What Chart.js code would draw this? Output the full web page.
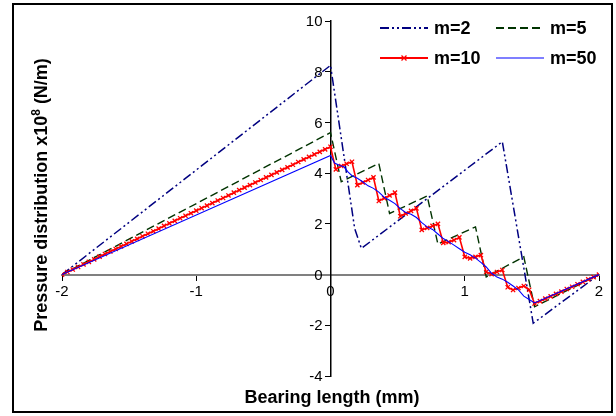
<!DOCTYPE html>
<html><head><meta charset="utf-8">
<script src="https://cdn.jsdelivr.net/npm/chart.js@4.4.0/dist/chart.umd.min.js"></script>
<style>html,body{margin:0;padding:0;background:#fff;}#wrap{position:relative;width:616px;height:416px;}</style>
</head><body><div id="wrap"><canvas id="c" width="616" height="416"></canvas></div>
<script>
const seriesNames = ['m=2', 'm=5', 'm=10', 'm=50'];
const xTicks = [-2, -1, 0, 1, 2];
const yTicks = [-4, -2, 0, 2, 4, 6, 8, 10];
const xTitle = 'Bearing length (mm)';
const yTitleParts = ['Pressure distribution x10', '8', ' (N/m)'];

const m2X = [-2, 0, 0.18, 0.23, 1.28, 1.51, 2];
const m2Y = [0, 8.25, 1.82, 1.03, 5.24, -1.92, 0];

const m5X = [-2, 0, 0.08, 0.36, 0.44, 0.72, 0.80, 1.08, 1.16, 1.44, 1.52, 2];
const m5Y = [0, 5.6, 3.66, 4.38, 2.41, 3.10, 1.20, 1.88, -0.09, 0.70, -1.27, 0];

const m10X = [-2.00,-1.96,-1.92,-1.88,-1.84,-1.80,-1.76,-1.72,-1.68,-1.64,-1.60,-1.56,-1.52,-1.48,-1.44,-1.40,-1.36,-1.32,-1.28,-1.24,-1.20,-1.16,-1.12,-1.08,-1.04,-1.00,-0.96,-0.92,-0.88,-0.84,-0.80,-0.76,-0.72,-0.68,-0.64,-0.60,-0.56,-0.52,-0.48,-0.44,-0.40,-0.36,-0.32,-0.28,-0.24,-0.20,-0.16,-0.12,-0.08,-0.04,0.00,
  0.04,0.08,0.12,0.16, 0.20,0.24,0.28,0.32, 0.36,0.40,0.44,0.48, 0.52,0.56,0.60,0.64, 0.68,0.72,0.76,0.80, 0.84,0.88,0.92,0.96, 1.00,1.04,1.08,1.12, 1.16,1.20,1.24,1.28, 1.32,1.36,1.40,1.44, 1.48,1.52,
  1.56,1.60,1.64,1.68,1.72,1.76,1.80,1.84,1.88,1.92,1.96,2.00];
const m10Y = [0,0.10,0.20,0.30,0.40,0.50,0.60,0.71,0.81,0.91,1.01,1.11,1.21,1.31,1.41,1.51,1.61,1.71,1.81,1.92,2.02,2.12,2.22,2.32,2.42,2.52,2.62,2.72,2.82,2.92,3.02,3.12,3.23,3.33,3.43,3.53,3.63,3.73,3.83,3.93,4.03,4.13,4.23,4.33,4.44,4.54,4.64,4.74,4.84,4.94,5.04,
  4.15,4.28,4.37,4.45, 3.53,3.63,3.73,3.83, 2.90,3.01,3.12,3.23, 2.30,2.41,2.51,2.61, 1.76,1.84,1.92,2.00, 1.25,1.28,1.36,1.47, 0.70,0.64,0.70,0.77, 0.10,0.02,0.10,0.18, -0.50,-0.61,-0.53,-0.45, -0.60,-1.14,
  -1.05,-0.95,-0.86,-0.76,-0.67,-0.57,-0.48,-0.38,-0.29,-0.19,-0.10,0];

const m50X = [-2, 0, 0.03,0.07,0.10,0.13,0.16,0.20,0.24,0.28,0.32,0.36,0.40,0.44,0.48,0.52,0.56,0.60,0.64,0.68,0.72,0.76,0.80,0.84,0.88,0.92,0.96,1.00,1.04,1.08,1.12,1.16,1.20,1.24,1.28,1.32,1.36,1.40,1.44,1.48,1.52, 2];
const m50Y = [0, 4.7, 4.40,4.30,4.25,4.05,3.90,3.80,3.66,3.50,3.40,3.25,3.05,2.93,2.80,2.60,2.45,2.38,2.25,2.05,1.88,1.78,1.60,1.42,1.30,1.16,1.02,0.88,0.78,0.65,0.48,0.30,0.05,-0.10,-0.18,-0.30,-0.45,-0.60,-0.85,-0.98,-1.12, 0];

function pts(xs, ys) { return xs.map((x, i) => ({x: x, y: ys[i]})); }

const FONT = '"Liberation Sans", Arial, sans-serif';

const styles = [
  {color: '#000080', dash: [9,3,2,3,2,3], width: 1.5, marker: false},
  {color: '#003300', dash: [8,4], width: 1.4, marker: false},
  {color: '#FF0000', dash: [], width: 1.6, marker: true},
  {color: '#0000FF', dash: [], width: 1.1, marker: false}
];

const datasets = [
  {label: seriesNames[0], data: pts(m2X, m2Y)},
  {label: seriesNames[1], data: pts(m5X, m5Y)},
  {label: seriesNames[2], data: pts(m10X, m10Y)},
  {label: seriesNames[3], data: pts(m50X, m50Y)}
].map((d, i) => Object.assign(d, {
  showLine: true,
  borderColor: styles[i].color,
  backgroundColor: styles[i].color,
  borderWidth: styles[i].width,
  borderDash: styles[i].dash,
  pointRadius: styles[i].marker ? 3 : 0,
  pointStyle: 'crossRot',
  pointBorderWidth: 1.3,
  pointBorderColor: styles[i].color,
  tension: 0,
  order: 4 - i
}));

const framePlugin = {
  id: 'frame',
  beforeDraw(chart) {
    const ctx = chart.ctx;
    ctx.save();
    ctx.fillStyle = '#fff';
    ctx.fillRect(0, 0, chart.width, chart.height);
    ctx.restore();
  },
  afterDraw(chart) {
    const ctx = chart.ctx;
    const xs = chart.scales.x, ys = chart.scales.y;
    ctx.save();
    ctx.strokeStyle = '#000';
    ctx.lineWidth = 2;
    ctx.strokeRect(13, 4, 599, 408);
    // y tick labels, left of the axis line
    ctx.fillStyle = '#000';
    ctx.font = '15px ' + FONT;
    ctx.textAlign = 'right';
    ctx.textBaseline = 'middle';
    const ax = xs.getPixelForValue(0);
    yTicks.forEach(v => ctx.fillText(String(v), ax - 8, ys.getPixelForValue(v) + 1));
    // x title
    ctx.font = 'bold 18px ' + FONT;
    ctx.textAlign = 'center';
    ctx.textBaseline = 'alphabetic';
    ctx.fillText(xTitle, 332, 403);
    // y title
    ctx.translate(47, 195);
    ctx.rotate(-Math.PI / 2);
    ctx.textAlign = 'left';
    const bigF = 'bold 18px ' + FONT, smallF = 'bold 12px ' + FONT;
    ctx.font = bigF; const w0 = ctx.measureText(yTitleParts[0]).width;
    ctx.font = smallF; const w1 = ctx.measureText(yTitleParts[1]).width;
    ctx.font = bigF; const w2 = ctx.measureText(yTitleParts[2]).width;
    let x = -(w0 + w1 + w2) / 2;
    ctx.font = bigF; ctx.fillText(yTitleParts[0], x, 0); x += w0;
    ctx.font = smallF; ctx.fillText(yTitleParts[1], x, -7); x += w1;
    ctx.font = bigF; ctx.fillText(yTitleParts[2], x, 0);
    ctx.restore();
    // legend
    const slots = [[380, 28], [496, 28], [380, 58], [496, 58]];
    ctx.save();
    slots.forEach((s, i) => {
      const st = styles[i];
      ctx.strokeStyle = st.color;
      ctx.lineWidth = i === 3 ? 1.2 : 2;
      ctx.setLineDash(st.dash);
      ctx.beginPath();
      ctx.moveTo(s[0], s[1]);
      ctx.lineTo(s[0] + 48, s[1]);
      ctx.stroke();
      ctx.setLineDash([]);
      if (st.marker) {
        const cx = s[0] + 24, cy = s[1], r = 2.5;
        ctx.lineWidth = 1.3;
        ctx.beginPath();
        ctx.moveTo(cx - r, cy - r); ctx.lineTo(cx + r, cy + r);
        ctx.moveTo(cx - r, cy + r); ctx.lineTo(cx + r, cy - r);
        ctx.stroke();
      }
      ctx.fillStyle = '#000';
      ctx.font = 'bold 18px ' + FONT;
      ctx.textAlign = 'left';
      ctx.textBaseline = 'middle';
      ctx.fillText(seriesNames[i], s[0] + 54, s[1] + 1);
    });
    ctx.restore();
  }
};

new Chart(document.getElementById('c'), {
  type: 'scatter',
  data: {datasets: datasets},
  options: {
    responsive: false,
    animation: false,
    devicePixelRatio: 1,
    layout: {padding: {left: 62, right: 17, top: 21, bottom: 40}},
    plugins: {legend: {display: false}, tooltip: {enabled: false}},
    scales: {
      x: {
        type: 'linear', min: -2, max: 2,
        position: {y: 0},
        afterBuildTicks: s => { s.ticks = xTicks.map(v => ({value: v})); },
        ticks: {color: '#000', font: {family: FONT, size: 15}, padding: 3, maxRotation: 0, autoSkip: false},
        grid: {display: true, drawOnChartArea: false, drawTicks: true, tickLength: 5, color: '#000', lineWidth: 1},
        border: {display: true, color: '#808080', width: 2}
      },
      y: {
        type: 'linear', min: -4, max: 10,
        position: {x: 0},
        afterBuildTicks: s => { s.ticks = yTicks.map(v => ({value: v})); },
        ticks: {display: false},
        grid: {display: true, drawOnChartArea: false, drawTicks: true, tickLength: 5, color: '#000', lineWidth: 1},
        border: {display: true, color: '#000', width: 1.5}
      }
    }
  },
  plugins: [framePlugin]
});
</script></body></html>
